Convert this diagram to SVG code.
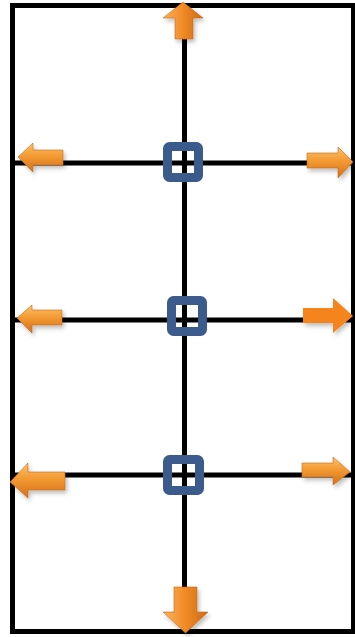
<svg xmlns="http://www.w3.org/2000/svg" width="355" height="637" viewBox="0 0 355 637">
<style>
.ln{stroke:#000;stroke-width:5;fill:none}
.sq{fill:none;stroke:#3B5B8D;stroke-width:9}
.ah{fill:url(#gh);filter:url(#sh);stroke:#C56A1C;stroke-width:0.6}
.av{fill:url(#gv);filter:url(#sh);stroke:#C56A1C;stroke-width:0.6}
.af{fill:#F5841F;filter:url(#sh)}
</style>
<defs>
<linearGradient id="gh" x1="0" y1="0" x2="0" y2="1">
<stop offset="0" stop-color="#FBC16A"/>
<stop offset="0.45" stop-color="#F39A32"/>
<stop offset="1" stop-color="#D4701C"/>
</linearGradient>
<linearGradient id="gv" x1="0" y1="0" x2="1" y2="0">
<stop offset="0" stop-color="#FBB45A"/>
<stop offset="0.5" stop-color="#F08A26"/>
<stop offset="1" stop-color="#CC6A1A"/>
</linearGradient>
<filter id="sh" x="-30%" y="-30%" width="160%" height="160%">
<feDropShadow dx="2" dy="3" stdDeviation="2" flood-color="#000" flood-opacity="0.25"/>
</filter>
</defs>
<g id="frame">
<rect class="ln" x="12.5" y="5.5" width="341" height="626"/>
</g>
<g id="connectors">
<line class="ln" x1="184.5" y1="5" x2="184.5" y2="631"/>
<line class="ln" x1="12" y1="163" x2="354" y2="163"/>
<line class="ln" x1="12" y1="320" x2="354" y2="320"/>
<line class="ln" x1="12" y1="475" x2="354" y2="475"/>
</g>
<g id="junction1"><rect class="sq" x="167.5" y="146.5" width="31" height="31" rx="2"/></g>
<g id="junction2"><rect class="sq" x="171.5" y="300.5" width="31" height="31" rx="2"/></g>
<g id="junction3"><rect class="sq" x="167.5" y="459.5" width="32" height="31" rx="2"/></g>
<g id="arrow-up"><path class="av" d="M183,2 L203,18 L193,18 L193,39 L175,39 L175,18 L163,18 Z"/></g>
<g id="arrow-down"><path class="av" d="M185.5,633 L208,612 L197,612 L197,587 L174,587 L174,612 L163,612 Z"/></g>
<g id="arrow-left-1"><path class="ah" d="M18,157 L33,143 L33,150 L63,150 L63,165 L33,165 L33,172 Z"/></g>
<g id="arrow-right-1"><path class="ah" d="M353,162 L338,147 L338,153 L307,153 L307,168 L338,168 L338,178 Z"/></g>
<g id="arrow-left-2"><path class="ah" d="M17,318 L32,305 L32,310 L62,310 L62,325 L32,325 L32,333 Z"/></g>
<g id="arrow-right-2"><path class="af" d="M353,316 L333,298 L333,308 L303,308 L303,323 L333,323 L333,333 Z"/></g>
<g id="arrow-left-3"><path class="ah" d="M10,482 L28,463 L28,472 L65,472 L65,490 L28,490 L28,498 Z"/></g>
<g id="arrow-right-3"><path class="ah" d="M350,472 L333,457 L333,463 L302,463 L302,477 L333,477 L333,485 Z"/></g>
</svg>
